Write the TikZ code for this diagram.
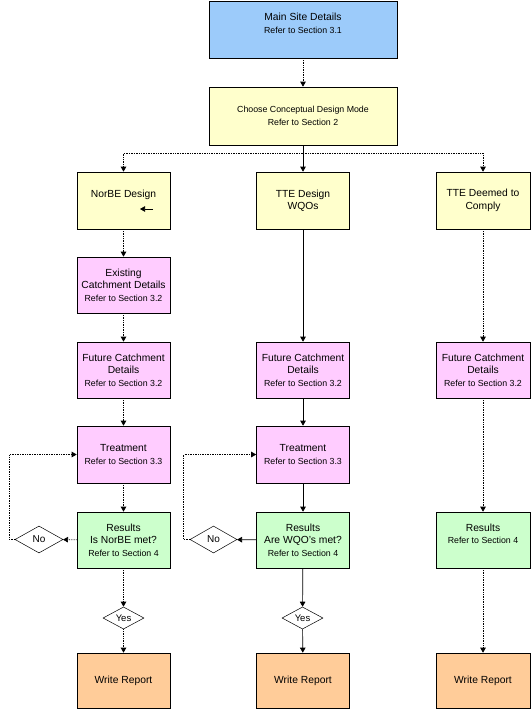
\documentclass[tikz,border=0pt]{standalone}
\usepackage{fontspec}
\setmainfont{Liberation Sans}
\usetikzlibrary{arrows.meta,shapes.geometric}
\newcommand\tfont{\fontsize{10.3}{12.5}\selectfont}
\newcommand\rfont{\fontsize{8.8}{12.5}\selectfont}
\definecolor{cblue}{HTML}{9CCBFA}
\definecolor{cyellow}{HTML}{FFFFCC}
\definecolor{cpink}{HTML}{FFCCFF}
\definecolor{cgreen}{HTML}{CCFFCC}
\definecolor{corange}{HTML}{FFCC99}
\tikzset{
  box/.style={draw=black, line width=0.6pt, minimum width=93pt, minimum height=57pt,
    inner sep=0pt, align=center, font=\tfont},
  bluebox/.style={box, fill=cblue, minimum width=188pt},
  yelbox/.style={box, fill=cyellow},
  pinkbox/.style={box, fill=cpink},
  greenbox/.style={box, fill=cgreen},
  orbox/.style={box, fill=corange, minimum height=55pt},
  nodia/.style={diamond, draw=black, line width=0.5pt, fill=white, inner sep=0pt,
    minimum width=48pt, minimum height=27pt, font=\fontsize{10}{12}\selectfont},
  yesdia/.style={diamond, draw=black, line width=0.5pt, fill=white, inner sep=0pt,
    minimum width=41pt, minimum height=22pt, font=\fontsize{9.5}{11}\selectfont},
  arr/.style={-{Triangle[length=5pt,width=5.5pt]}, line width=0.7pt},
  dotarr/.style={arr, densely dotted},
  dotline/.style={line width=0.7pt, densely dotted},
}
\begin{document}
\begin{tikzpicture}[x=1pt,y=-1pt]
\useasboundingbox (0,0) rectangle (532,712);
% top
\node[bluebox] (main) at (303,29.5) {Main Site Details\\{\rfont Refer to Section 3.1}\\\mbox{}};
\node[yelbox, minimum width=188pt, minimum height=58pt, font=\rfont] (choose) at (303,116) {Choose Conceptual Design Mode\\Refer to Section 2};
% row 1
\node[yelbox] (norbe) at (123.5,200.5) {NorBE Design\\\mbox{}};
\node[yelbox] (tte) at (303,200.5) {TTE Design\\WQOs};
\node[yelbox, minimum width=94pt] (deemed) at (483,200.5) {TTE Deemed to\\Comply};
% left column
\node[pinkbox, minimum height=56pt] (exist) at (123.5,285) {Existing\\Catchment Details\\{\rfont Refer to Section 3.2}};
\node[pinkbox, minimum height=56pt] (fut1) at (123.5,370) {Future Catchment\\Details\\{\rfont Refer to Section 3.2}};
\node[pinkbox] (treat1) at (123.5,454.5) {Treatment\\{\rfont Refer to Section 3.3}};
\node[greenbox, minimum height=56pt] (res1) at (123.5,540) {Results\\Is NorBE met?\\{\rfont Refer to Section 4}};
\node[nodia] (no1) at (39,539.5) {No};
\node[yesdia] (yes1) at (123.5,618) {Yes};
\node[orbox] (wr1) at (123.5,680.5) {Write Report};
% middle column
\node[pinkbox, minimum height=56pt] (fut2) at (303,370) {Future Catchment\\Details\\{\rfont Refer to Section 3.2}};
\node[pinkbox] (treat2) at (303,454.5) {Treatment\\{\rfont Refer to Section 3.3}};
\node[greenbox, minimum height=56pt] (res2) at (303,540) {Results\\Are WQO's met?\\{\rfont Refer to Section 4}};
\node[nodia, minimum width=47pt] (no2) at (213.5,539.5) {No};
\node[yesdia] (yes2) at (302.5,618) {Yes};
\node[orbox] (wr2) at (303,680.5) {Write Report};
% right column
\node[pinkbox, minimum width=94pt, minimum height=56pt] (fut3) at (483,370) {Future Catchment\\Details\\{\rfont Refer to Section 3.2}};
\node[greenbox, minimum width=94pt, minimum height=56pt] (res3) at (483,540) {Results\\{\rfont Refer to Section 4}\\\mbox{}};
\node[orbox, minimum width=94pt] (wr3) at (483,680.5) {Write Report};
% small arrow inside NorBE box
\coordinate (sa) at (153,209);
\draw[arr] (sa) -- ++(-13,0);
% connectors
\draw[dotarr] (main) -- (choose);
\draw[arr] (choose) -- (tte);
\coordinate (hb) at (303,153);
\draw[dotarr] (hb) -| (norbe.north);
\draw[dotarr] (hb) -| (deemed.north);
% left
\draw[dotarr] (norbe) -- (exist);
\draw[dotarr] (exist) -- (fut1);
\draw[dotarr] (fut1) -- (treat1);
\draw[dotarr] (treat1) -- (res1);
\draw[dotarr] (res1) -- (no1);
\draw[dotarr] (no1.west) -- ++(-5,0) |- (treat1.west);
\draw[dotarr] (res1) -- (yes1);
\draw[dotarr] (yes1) -- (wr1);
% middle
\draw[arr] (tte) -- (fut2);
\draw[arr] (fut2) -- (treat2);
\draw[arr] (treat2) -- (res2);
\draw[arr] (res2) -- (no2);
\draw[dotarr] (no2.west) -- ++(-6,0) |- (treat2.west);
\draw[arr] (res2) -- (yes2);
\draw[arr] (yes2) -- (wr2);
% right
\draw[dotarr] (deemed) -- (fut3);
\draw[dotarr] (fut3) -- (res3);
\draw[dotarr] (res3) -- (wr3);
\end{tikzpicture}
\end{document}
